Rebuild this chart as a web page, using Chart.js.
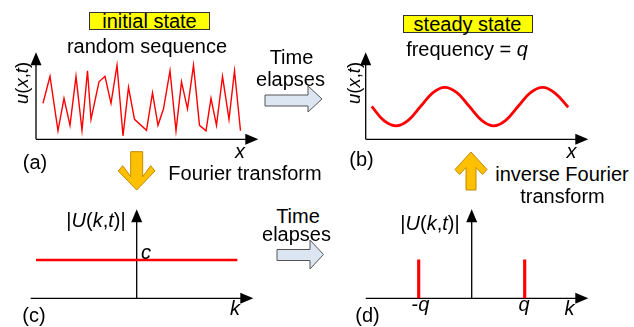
<!DOCTYPE html>
<html>
<head>
<meta charset="utf-8">
<script src="https://cdn.jsdelivr.net/npm/chart.js@4/dist/chart.umd.min.js"></script>
<style>
  body { margin: 0; background: #fff; }
  #wrap { position: relative; width: 634px; height: 327px; overflow: hidden; font-family: "Liberation Sans", Arial, sans-serif; color: #000; }
  canvas { position: absolute; }
  .t { position: absolute; transform: translate(-50%, -50%); white-space: nowrap; font-size: 20px; line-height: 20px; }
  .box { position: absolute; background: #ffff00; border: 1px solid #333; box-sizing: border-box; text-align: center; font-size: 20px; line-height: 16px; }
  .rot { transform: translate(-50%, -50%) rotate(-90deg); font-size: 18.5px; }
  i { font-style: italic; }
  svg { position: absolute; left: 0; top: 0; }
</style>
</head>
<body>
<div id="wrap">
  <svg width="634" height="327">
    <!-- time elapses arrows -->
    <polygon points="265,95 308,95 308,86 322,99 308,112 308,106 265,106" fill="#dce6f2" stroke="#555" stroke-width="1"/>
    <polygon points="277,249.5 310,249.5 310,240 323.5,254.5 310,269 310,260.5 277,260.5" fill="#dce6f2" stroke="#555" stroke-width="1"/>
    <!-- fourier arrows -->
    <polygon points="130.7,151.7 142.7,151.7 142.7,176.7 150.7,165.7 155,171 136.7,190 118.3,171 122.7,165.7 130.7,176.7" fill="#ffc000" stroke="#c08a00" stroke-width="1"/>
    <polygon points="471,152 487,169.5 482.5,174.5 476,167.5 476,190 466,190 466,167.5 459.5,174.5 455,169.5" fill="#ffc000" stroke="#c08a00" stroke-width="1"/>
  </svg>

  <canvas id="chartA" width="250" height="105" style="left:20px; top:45px;"></canvas>
  <canvas id="chartB" width="250" height="105" style="left:350px; top:45px;"></canvas>
  <canvas id="chartC" width="245" height="110" style="left:20px; top:200px;"></canvas>
  <canvas id="chartD" width="245" height="110" style="left:355px; top:200px;"></canvas>

  <div class="box" style="left:89px; top:12px; width:121px; height:17.5px;">initial state</div>
  <div class="box" style="left:402.5px; top:15px; width:130px; height:17.5px;">steady state</div>
  <div class="t" style="left:147px; top:45.5px;">random sequence</div>
  <div class="t" style="left:467px; top:48.5px;">frequency = <i>q</i></div>
  <div class="t" style="left:291.5px; top:57px;">Time</div>
  <div class="t" style="left:290.5px; top:78.5px;">elapses</div>
  <div class="t" style="left:298px; top:215.5px;">Time</div>
  <div class="t" style="left:296.5px; top:234px;">elapses</div>
  <div class="t" style="left:245px; top:172.5px;">Fourier transform</div>
  <div class="t" style="left:562px; top:174px;">inverse Fourier</div>
  <div class="t" style="left:562.5px; top:196px;">transform</div>

  <div class="t rot" style="left:21.5px; top:82.5px;"><i>u</i>(<i>x</i>,<i>t</i>)</div>
  <div class="t rot" style="left:353.5px; top:83px;"><i>u</i>(<i>x</i>,<i>t</i>)</div>
  <div class="t" style="left:96px; top:220px;">|<i>U</i>(<i>k</i>,<i>t</i>)|</div>
  <div class="t" style="left:430px; top:222.5px;">|<i>U</i>(<i>k</i>,<i>t</i>)|</div>

  <div class="t" style="left:240px; top:151px;"><i>x</i></div>
  <div class="t" style="left:571.5px; top:151px;"><i>x</i></div>
  <div class="t" style="left:235px; top:307.5px;"><i>k</i></div>
  <div class="t" style="left:569.5px; top:308px;"><i>k</i></div>
  <div class="t" style="left:146px; top:252px;"><i>c</i></div>
  <div class="t" style="left:420.5px; top:303.5px;">-<i>q</i></div>
  <div class="t" style="left:524px; top:303.5px;"><i>q</i></div>

  <div class="t" style="left:35px; top:161.5px;">(a)</div>
  <div class="t" style="left:361.5px; top:158.5px;">(b)</div>
  <div class="t" style="left:34px; top:315px;">(c)</div>
  <div class="t" style="left:367.5px; top:315px;">(d)</div>
</div>

<script>
// (a) random sequence, x = position along the axis, u = height
const randX = [7, 14, 22, 28, 34, 40, 46, 51.5, 55, 63, 69, 75, 81, 87, 92.5, 98.5, 110.5, 116.5, 122, 127.5, 134, 140, 145.5, 151.5, 157.5, 163.5, 170, 175, 180.5, 186.5, 193, 198.5, 204.5];
const randU = [36, 63, 8.5, 41, 14, 63, 9, 68.5, 20, 57.5, 63, 36, 74, 3.5, 52, 20, 9, 46.5, 14, 30.5, 68.5, 8.5, 57.5, 30.5, 74, 14, 8.5, 41, 14, 63, 20, 68.5, 8.5];

// (b) steady state wave
const waveX = [6, 18, 30.5, 42.5, 55, 67, 79, 91.5, 103.5, 116, 128, 140, 152.5, 164.5, 177, 189, 202.5];
const waveU = [33, 19, 13.5, 19, 33, 46.5, 52, 46.5, 33, 19, 13.5, 19, 33, 46.5, 52, 46.5, 32];

// (c) flat spectrum, value c
const flatK = [-1.9, 1.9];
const flatU = [1, 1];

// (d) two peaks at -q and q
const peakK = [-1, 1];
const peakU = [1, 1];

const red = '#ff0000';

const axisArrows = {
  id: 'axisArrows',
  beforeDatasetsDraw(chart) {
    const ctx = chart.ctx;
    const x = chart.scales.x, y = chart.scales.y;
    const y0 = y.getPixelForValue(0);
    const x0 = x.getPixelForValue(0);
    const xl = x.getPixelForValue(x.min), xr = x.getPixelForValue(x.max);
    const yt = y.getPixelForValue(y.max);
    const len = 13, hw = 5.5;
    ctx.save();
    ctx.strokeStyle = '#000';
    ctx.fillStyle = '#000';
    ctx.lineWidth = 1.3;
    ctx.beginPath();
    ctx.moveTo(xl, y0); ctx.lineTo(xr - len + 1, y0);
    ctx.moveTo(x0, y0); ctx.lineTo(x0, yt + len - 1);
    ctx.stroke();
    ctx.beginPath();
    ctx.moveTo(xr, y0); ctx.lineTo(xr - len, y0 - hw); ctx.lineTo(xr - len, y0 + hw); ctx.closePath();
    ctx.moveTo(x0, yt); ctx.lineTo(x0 - hw, yt + len); ctx.lineTo(x0 + hw, yt + len); ctx.closePath();
    ctx.fill();
    ctx.restore();
  }
};

function pts(xs, ys) {
  return xs.map((v, i) => ({x: v, y: ys[i]}));
}

function opts(xmin, xmax, ymax, pad) {
  return {
    responsive: false,
    animation: false,
    events: [],
    layout: {padding: pad},
    plugins: {legend: {display: false}, tooltip: {enabled: false}},
    scales: {
      x: {type: 'linear', display: false, offset: false, min: xmin, max: xmax},
      y: {type: 'linear', display: false, min: 0, max: ymax}
    }
  };
}

new Chart(document.getElementById('chartA'), {
  type: 'line',
  data: {
    datasets: [{
      data: pts(randX, randU),
      borderColor: red,
      borderWidth: 1.4,
      pointRadius: 0,
      tension: 0
    }]
  },
  options: opts(0, 222.3, 87, {left: 16, right: 11.7, top: 7.3, bottom: 10.7}),
  plugins: [axisArrows]
});

new Chart(document.getElementById('chartB'), {
  type: 'line',
  data: {
    datasets: [{
      data: pts(waveX, waveU),
      borderColor: red,
      borderWidth: 2.8,
      pointRadius: 0,
      tension: 0.4
    }]
  },
  options: opts(0, 222.6, 87, {left: 15.7, right: 11.7, top: 7.3, bottom: 10.7}),
  plugins: [axisArrows]
});

new Chart(document.getElementById('chartC'), {
  type: 'line',
  data: {
    datasets: [{
      data: pts(flatK, flatU),
      borderColor: red,
      borderWidth: 2.6,
      pointRadius: 0
    }]
  },
  options: opts(-2, 2.2, 2.32, {left: 10.7, right: 11.7, top: 9.3, bottom: 11.7}),
  plugins: [axisArrows]
});

new Chart(document.getElementById('chartD'), {
  type: 'bar',
  data: {
    datasets: [{
      data: pts(peakK, peakU),
      backgroundColor: red,
      barThickness: 2.5
    }]
  },
  options: opts(-2, 2.2, 2.32, {left: 10.7, right: 11.7, top: 9.3, bottom: 11.7}),
  plugins: [axisArrows]
});
</script>
</body>
</html>
